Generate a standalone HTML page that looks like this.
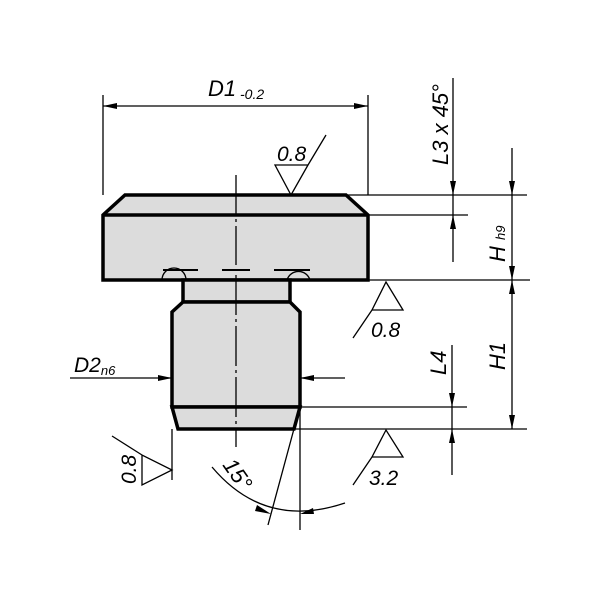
<!DOCTYPE html><html><head><style>body{margin:0;background:#fff}svg{display:block}text{font-family:"Liberation Sans",sans-serif;font-style:italic;fill:#000}</style></head><body>
<svg width="600" height="600" viewBox="0 0 600 600">
<g fill="#dcdcdc" stroke="#000" stroke-width="3.5" stroke-linejoin="miter">
<path d="M125,195 L346,195 L368,215 L368,280 L103,280 L103,215 Z"/>
<rect x="183" y="280" width="107" height="22"/>
<path d="M183,302 L290,302 L300,312 L300,407 L172,407 L172,312 Z"/>
<path d="M172,407 L300,407 L294,429 L178,429 Z"/>
<line x1="103" y1="215" x2="368" y2="215"/>
</g>
<g fill="none" stroke="#000" stroke-width="1.3">
<path d="M162,280 A12,12 0 0 1 186,280"/>
<path d="M287,280 A12,12 0 0 1 310,280"/>
<path d="M163,270 H198 M222,270 H250 M274,270 H310" stroke-width="2"/>
<path d="M236,175 V265 M236,275 V447" stroke-dasharray="40,4,3,4"/>
<path d="M103,95 V195 M368,95 V195 M103,106 H368"/>
<path d="M346,195 H527 M368,215 H468 M368,280 H530 M300,407 H467 M294,429 H527"/>
<path d="M453,78 V262 M512,148 V429 M452,345 V475"/>
<path d="M70,378 H172 M345,378 H300"/>
<path d="M275,165 H308 L291,195 Z M308,165 L326,135"/>
<path d="M372,310 H403 L386,282 Z M372,310 L353,338"/>
<path d="M372,457 H403 L386,430 Z M372,457 L353,485"/>
<path d="M142,455 V485 L172,470 Z M142,455 L112,436 M172,429 V480"/>
<path d="M300,410 V530 M298,414 L268,525"/>
<path d="M212,467 Q265,530 345,503"/>
</g>
<g fill="#000">
<polygon points="103,106 117,103 117,109"/><polygon points="368,106 354,103 354,109"/>
<polygon points="453,195 450,181 456,181"/><polygon points="453,215 450,229 456,229"/>
<polygon points="512,195 509,181 515,181"/><polygon points="512,280 509,266 515,266"/><polygon points="512,280 509,294 515,294"/><polygon points="512,429 509,415 515,415"/>
<polygon points="452,407 449,393 455,393"/><polygon points="452,429 449,443 455,443"/>
<polygon points="172,378 158,375 158,381"/><polygon points="300,378 314,375 314,381"/>
<polygon points="271,514 257,505 255,511"/><polygon points="300,514 313,508 314,514"/>
</g>
<text x="208" y="96" font-size="22">D1<tspan font-size="14" dy="3"> -0.2</tspan></text>
<text x="277" y="161" font-size="21">0.8</text>
<text x="371" y="337" font-size="21">0.8</text>
<text x="369" y="485" font-size="21">3.2</text>
<text x="74" y="372" font-size="21">D2<tspan font-size="13" dy="3">n6</tspan></text>
<text transform="translate(136,484) rotate(-90)" font-size="21">0.8</text>
<text transform="translate(448,165) rotate(-90)" font-size="22">L3 x 45°</text>
<text transform="translate(505,262) rotate(-90)" font-size="22">H <tspan font-size="13">h9</tspan></text>
<text transform="translate(505,370) rotate(-90)" font-size="22">H1</text>
<text transform="translate(446,375) rotate(-90)" font-size="22">L4</text>
<text transform="translate(222,465) rotate(55)" font-size="22">15°</text>
</svg></body></html>
